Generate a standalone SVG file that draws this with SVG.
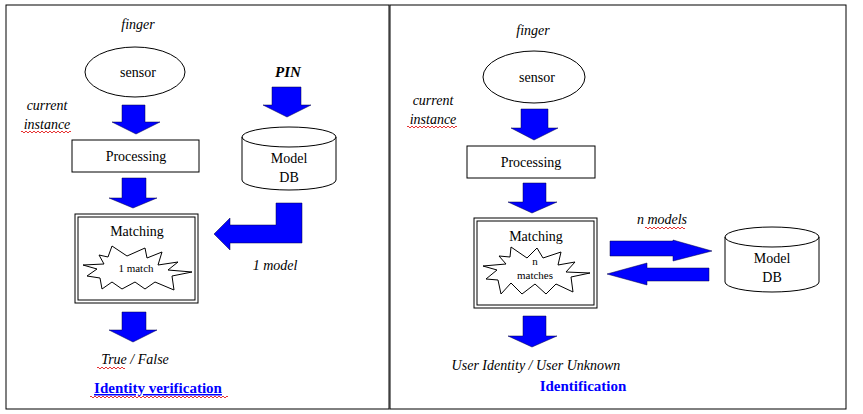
<svg xmlns="http://www.w3.org/2000/svg" width="863" height="414" viewBox="0 0 863 414">
<style>
text{font-family:"Liberation Serif","Times New Roman",serif;font-size:14px;fill:#000;text-anchor:middle}
.i{font-style:italic}
.b{font-weight:bold;fill:#0000ff;font-size:15px}
.s{font-size:11px}
.ln{fill:none;stroke:#000;stroke-width:1}
.ar{fill:#0000ff;stroke:#000040;stroke-width:0.5}
.sq{fill:none;stroke:#e00000;stroke-width:0.8}
</style>
<rect width="863" height="414" fill="#fff"/>
<rect x="6" y="5" width="383" height="404" class="ln"/>
<rect x="390" y="5" width="456" height="404" class="ln"/>
<g id="left">
<g id="l-finger"><text x="138" y="29" class="i">finger</text></g>
<g id="l-sensor"><ellipse cx="135" cy="72" rx="50" ry="25" class="ln"/><text x="138" y="77">sensor</text></g>
<g id="l-current"><text x="47" y="110" class="i">current</text><text x="47" y="129" class="i">instance</text><path d="M21 132 q1 -2 2 0 t2 0 t2 0 t2 0 t2 0 t2 0 t2 0 t2 0 t2 0 t2 0 t2 0 t2 0 t2 0 t2 0 t2 0 t2 0 t2 0 t2 0 t2 0 t2 0 t2 0 t2 0 t2 0 t2 0 t2 0" class="sq"/></g>
<g id="l-processing"><rect x="72" y="140" width="127" height="32" class="ln"/><text x="136" y="161">Processing</text></g>
<g id="l-matching"><rect x="75" y="214" width="123" height="89" class="ln"/><rect x="78" y="217" width="117" height="83" class="ln"/><text x="137" y="236">Matching</text>
<polygon points="112,246 127,256 145,248 147,258 162,252 158,265 178,262 168,270 192,272 172,276 174,290 155,282 145,289 135,282 122,289 112,282 102,289 100,278 87,276 97,269 83,265 104,264 99,255 108,257" class="ln"/><text x="136" y="272" class="s">1 match</text></g>
<g id="l-pin"><text x="288" y="77" class="i" style="font-weight:bold;font-size:15px">PIN</text></g>
<g id="l-db"><path d="M242 137 v43 a47 10 0 0 0 94 0 v-43" class="ln"/><ellipse cx="289" cy="137" rx="47" ry="10" class="ln"/><text x="289" y="163">Model</text><text x="289" y="182">DB</text></g>
<g id="l-model"><text x="275" y="270" class="i">1 model</text></g>
<g id="l-result"><text x="135" y="364" class="i">True / False</text><path d="M97 368 q1 -2 2 0 t2 0 t2 0 t2 0 t2 0 t2 0 t2 0 t2 0 t2 0 t2 0 t2 0 t2 0 t2 0 t2 0" class="sq"/></g>
<g id="l-title"><text x="158" y="393" class="b" style="text-decoration:underline">Identity verification</text><path d="M90 397 q1 -2 2 0 t2 0 t2 0 t2 0 t2 0 t2 0 t2 0 t2 0 t2 0 t2 0 t2 0 t2 0 t2 0 t2 0 t2 0 t2 0 t2 0 t2 0 t2 0 t2 0 t2 0 t2 0 t2 0 t2 0 t2 0 t2 0 t2 0 t2 0 t2 0 t2 0 t2 0 t2 0 t2 0 t2 0 t2 0 t2 0 t2 0 t2 0 t2 0 t2 0 t2 0 t2 0 t2 0 t2 0 t2 0 t2 0 t2 0 t2 0 t2 0 t2 0 t2 0 t2 0 t2 0 t2 0 t2 0 t2 0 t2 0 t2 0 t2 0 t2 0 t2 0 t2 0 t2 0 t2 0 t2 0 t2 0 t2 0 t2 0 t2 0" class="sq"/></g>
</g>
<g id="right">
<g id="r-finger"><text x="533" y="35" class="i">finger</text></g>
<g id="r-sensor"><ellipse cx="534" cy="77" rx="51" ry="26" class="ln"/><text x="537" y="82">sensor</text></g>
<g id="r-current"><text x="433" y="105" class="i">current</text><text x="433" y="124" class="i">instance</text><path d="M407 127 q1 -2 2 0 t2 0 t2 0 t2 0 t2 0 t2 0 t2 0 t2 0 t2 0 t2 0 t2 0 t2 0 t2 0 t2 0 t2 0 t2 0 t2 0 t2 0 t2 0 t2 0 t2 0 t2 0 t2 0 t2 0 t2 0" class="sq"/></g>
<g id="r-processing"><rect x="467" y="146" width="128" height="32" class="ln"/><text x="531" y="167">Processing</text></g>
<g id="r-matching"><rect x="474" y="218" width="123" height="90" class="ln"/><rect x="477" y="221" width="117" height="84" class="ln"/><text x="536" y="241">Matching</text>
<polygon points="511,247 527,258 537,248 543,258 561,252 558,265 575,262 566,272 590,273 571,277 573,292 556,284 546,294 535,284 522,294 511,283 501,294 498,280 486,279 497,270 483,266 506,264 499,256 510,257" class="ln"/><text x="535" y="265" class="s">n</text><text x="535" y="279" class="s">matches</text></g>
<g id="r-db"><path d="M725 237 v45 a47 10 0 0 0 94 0 v-45" class="ln"/><ellipse cx="772" cy="237" rx="47" ry="10" class="ln"/><text x="772" y="263">Model</text><text x="772" y="282">DB</text></g>
<g id="r-models"><text x="662" y="224" class="i">n models</text><path d="M645 228 q1 -2 2 0 t2 0 t2 0 t2 0 t2 0 t2 0 t2 0 t2 0 t2 0 t2 0 t2 0 t2 0 t2 0 t2 0 t2 0 t2 0 t2 0 t2 0 t2 0 t2 0" class="sq"/></g>
<g id="r-result"><text x="536" y="370" class="i">User Identity / User Unknown</text></g>
<g id="r-title"><text x="583" y="391" class="b">Identification</text></g>
</g>
<g id="connectors">
<polygon points="122,105 145,105 145,122 160,122 136,134 112,122 122,122" class="ar"/>
<polygon points="122,178 146,178 146,198 157,198 133,208 109,198 122,198" class="ar"/>
<polygon points="272,87 301,87 301,105 311,105 287,117 263,105 272,105" class="ar"/>
<polygon points="276,203 302,203 302,243 230,243 230,250 214,234 230,218 230,225 276,225" class="ar"/>
<polygon points="122,312 146,312 146,330 157,330 133,342 109,330 122,330" class="ar"/>
<polygon points="521,109 548,109 548,128 558,128 534,140 511,128 521,128" class="ar"/>
<polygon points="523,183 546,183 546,202 557,202 532,213 508,202 523,202" class="ar"/>
<polygon points="523,316 546,316 546,336 557,336 532,347 508,336 523,336" class="ar"/>
<polygon points="610,241 673,241 673,240 712,251 673,261 673,256 610,256" class="ar"/>
<polygon points="709,268 709,281 647,281 647,285 607,274 647,263 647,268" class="ar"/>
</g>
</svg>
